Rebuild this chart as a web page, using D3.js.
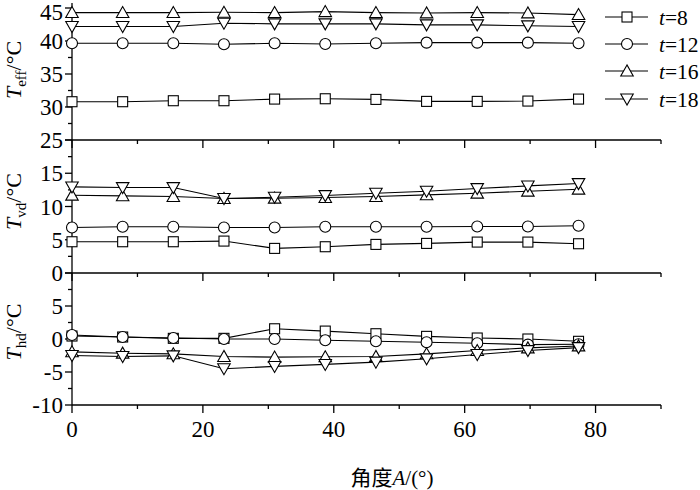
<!DOCTYPE html>
<html><head><meta charset="utf-8">
<script src="https://cdn.jsdelivr.net/npm/d3@7"></script>
<style>body{margin:0;background:#fff}svg{display:block}</style>
</head><body>
<svg id="c" width="700" height="490" font-family="'Liberation Serif', 'Times New Roman', serif"></svg>
<script>
// angle A (deg)
const angles = [0, 7.74, 15.48, 23.22, 30.96, 38.7, 46.44, 54.18, 61.92, 69.66, 77.4];
const seriesNames = ["8", "12", "16", "18"];
const seriesSymbols = ["square", "circle", "triangleUp", "triangleDown"];
// T_eff
const teff8  = [30.8, 30.8, 30.95, 30.95, 31.2, 31.25, 31.15, 30.85, 30.85, 30.9, 31.2];
const teff12 = [39.65, 39.65, 39.65, 39.5, 39.65, 39.55, 39.65, 39.75, 39.75, 39.75, 39.65];
const teff16 = [44.3, 44.3, 44.3, 44.35, 44.3, 44.45, 44.3, 44.25, 44.3, 44.25, 44.0];
const teff18 = [42.2, 42.2, 42.2, 42.7, 42.6, 42.6, 42.6, 42.45, 42.45, 42.3, 42.2];
// T_vd
const tvd8  = [4.7, 4.7, 4.7, 4.8, 3.7, 3.95, 4.3, 4.45, 4.65, 4.65, 4.4];
const tvd12 = [6.85, 6.95, 6.95, 6.85, 6.85, 6.95, 6.95, 6.95, 7.0, 7.0, 7.1];
const tvd16 = [11.7, 11.6, 11.5, 11.2, 11.25, 11.35, 11.5, 11.75, 12.0, 12.3, 12.6];
const tvd18 = [12.95, 12.85, 12.85, 11.2, 11.4, 11.65, 12.0, 12.3, 12.7, 13.1, 13.45];
// T_hd
const thd8  = [0.45, 0.3, 0.1, 0.1, 1.55, 1.2, 0.8, 0.4, 0.15, 0.0, -0.35];
const thd12 = [0.6, 0.3, 0.15, 0.0, 0.0, -0.2, -0.35, -0.5, -0.65, -0.85, -0.8];
const thd16 = [-1.95, -2.15, -2.25, -2.65, -2.75, -2.7, -2.65, -2.25, -1.75, -1.35, -1.05];
const thd18 = [-2.5, -2.65, -2.55, -4.5, -4.15, -3.85, -3.5, -3.0, -2.35, -1.75, -1.3];
// axes
const xTicks = [0, 20, 40, 60, 80];
const xMinor = [10, 30, 50, 70, 90];
const panelTicks = [[25, 30, 35, 40, 45], [0, 5, 10, 15], [-10, -5, 0, 5]];
const panelDomains = [[25, 45], [0, 20], [-10, 10]];
const panelSubs = ["eff", "vd", "hd"];
const panelData = [[teff8, teff12, teff16, teff18], [tvd8, tvd12, tvd16, tvd18], [thd8, thd12, thd16, thd18]];

const svg = d3.select("#c");
const x = d3.scaleLinear().domain([0, 90]).range([72, 661]);
const panelPix = [[140, 8], [273, 140], [405, 273]];
const fs = 23;

function drawSym(g, type, cx, cy) {
  if (type === "square") {
    g.append("rect").attr("x", cx - 5).attr("y", cy - 5).attr("width", 10).attr("height", 10)
      .attr("fill", "#fff").attr("stroke", "#000").attr("stroke-width", 1.1);
  } else if (type === "circle") {
    g.append("circle").attr("cx", cx).attr("cy", cy).attr("r", 5.5)
      .attr("fill", "#fff").attr("stroke", "#000").attr("stroke-width", 1.1);
  } else {
    const s = type === "triangleUp" ? 1 : -1;
    const h = 11, w = 12.5;
    const pts = [[cx, cy - s * h * 0.55], [cx - w / 2, cy + s * h * 0.45], [cx + w / 2, cy + s * h * 0.45]];
    g.append("path").attr("d", "M" + pts.map(p => p.join(",")).join("L") + "Z")
      .attr("fill", "#fff").attr("stroke", "#000").attr("stroke-width", 1.1);
  }
}

svg.append("line").attr("x1", 72).attr("x2", 72).attr("y1", 3).attr("y2", 405)
  .attr("stroke", "#000").attr("stroke-width", 1.3);

panelDomains.forEach((dom, pi) => {
  const y = d3.scaleLinear().domain(dom).range(panelPix[pi]);
  const g = svg.append("g");
  g.append("line").attr("x1", 72).attr("x2", 661).attr("y1", y(dom[0])).attr("y2", y(dom[0]))
    .attr("stroke", "#000").attr("stroke-width", 1.3);
  xTicks.forEach(t => g.append("line").attr("x1", x(t)).attr("x2", x(t))
    .attr("y1", y(dom[0])).attr("y2", y(dom[0]) + 8).attr("stroke", "#000").attr("stroke-width", 1.3));
  xMinor.forEach(t => g.append("line").attr("x1", x(t)).attr("x2", x(t))
    .attr("y1", y(dom[0])).attr("y2", y(dom[0]) + 4).attr("stroke", "#000").attr("stroke-width", 1.3));
  const step = 5;
  for (let v = dom[0]; v <= dom[1]; v += step) {
    g.append("line").attr("x1", 65).attr("x2", 72).attr("y1", y(v)).attr("y2", y(v))
      .attr("stroke", "#000").attr("stroke-width", 1.3);
    if (v + step / 2 < dom[1])
      g.append("line").attr("x1", 68).attr("x2", 72).attr("y1", y(v + step / 2)).attr("y2", y(v + step / 2))
        .attr("stroke", "#000").attr("stroke-width", 1.3);
  }
  panelTicks[pi].forEach(v => g.append("text").attr("x", 63).attr("y", y(v) + (pi === 0 && v === 45 ? 3.5 : 0)).attr("dy", "0.35em")
    .attr("text-anchor", "end").attr("font-size", fs).text(v));
  const cy = (panelPix[pi][0] + panelPix[pi][1]) / 2;
  const yt = g.append("text").attr("transform", `translate(21,${cy + [-4, -5, -7][pi]}) rotate(-90)`)
    .attr("text-anchor", "middle").attr("font-size", 22);
  yt.append("tspan").attr("font-style", "italic").text("T");
  yt.append("tspan").attr("font-size", 15).attr("dy", 5).text(panelSubs[pi]);
  yt.append("tspan").attr("dy", -5).text("/°C");
  const line = d3.line().x((d, i) => x(angles[i])).y(d => y(d));
  panelData[pi].forEach(arr => g.append("path").attr("d", line(arr)).attr("fill", "none")
    .attr("stroke", "#000").attr("stroke-width", 1.1));
  panelData[pi].forEach((arr, si) => arr.forEach((v, i) => drawSym(g, seriesSymbols[si], x(angles[i]), y(v))));
});

xTicks.forEach(t => svg.append("text").attr("x", x(t)).attr("y", 437).attr("text-anchor", "middle")
  .attr("font-size", fs).text(t));
const xt = svg.append("text").attr("x", 392).attr("y", 485).attr("text-anchor", "middle").attr("font-size", 21);
xt.append("tspan").attr("font-family", "'Noto Sans CJK SC'").text("角度");
xt.append("tspan").attr("font-style", "italic").text("A");
xt.append("tspan").text("/(°)");

const legY = [17, 44, 71, 99];
seriesNames.forEach((n, i) => {
  const lg = svg.append("g");
  lg.append("line").attr("x1", 605).attr("x2", 648).attr("y1", legY[i]).attr("y2", legY[i])
    .attr("stroke", "#000").attr("stroke-width", 1.1);
  drawSym(lg, seriesSymbols[i], 627, legY[i]);
  const t = lg.append("text").attr("x", 659).attr("y", legY[i]).attr("dy", "0.35em").attr("font-size", 21.5);
  t.append("tspan").attr("font-style", "italic").text("t");
  t.append("tspan").text("=" + n);
});
</script>
</body></html>
